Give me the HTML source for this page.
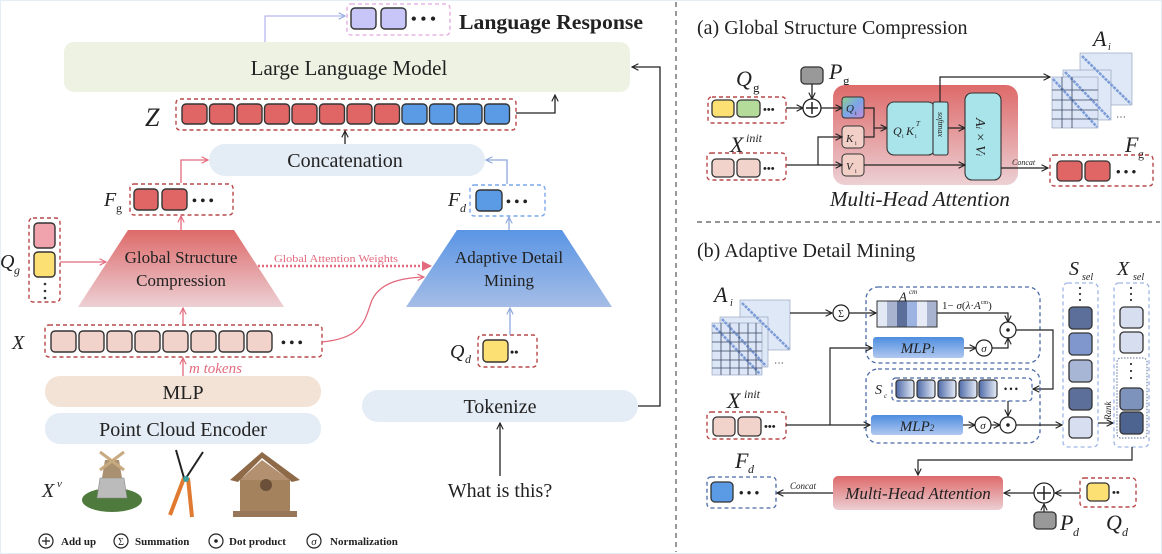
<!DOCTYPE html>
<html><head><meta charset="utf-8"><style>
html,body{margin:0;padding:0;background:#fff}
svg{display:block}
text{font-family:"Liberation Serif",serif;fill:#222}
.it{font-style:italic}
</style></head><body>
<svg width="1162" height="554" viewBox="0 0 1162 554" xmlns="http://www.w3.org/2000/svg">
<defs>
<marker id="ak" viewBox="0 0 10 10" refX="9" refY="5" markerWidth="8" markerHeight="8" orient="auto-start-reverse" markerUnits="userSpaceOnUse"><path d="M1,1 L9,5 L1,9" fill="none" stroke="#222" stroke-width="1.4"/></marker>
<marker id="ap" viewBox="0 0 10 10" refX="9" refY="5" markerWidth="8" markerHeight="8" orient="auto-start-reverse" markerUnits="userSpaceOnUse"><path d="M1,1 L9,5 L1,9" fill="none" stroke="#e36a7d" stroke-width="1.4"/></marker>
<marker id="ab" viewBox="0 0 10 10" refX="9" refY="5" markerWidth="8" markerHeight="8" orient="auto-start-reverse" markerUnits="userSpaceOnUse"><path d="M1,1 L9,5 L1,9" fill="none" stroke="#8fa8dc" stroke-width="1.4"/></marker>
<marker id="apf" viewBox="0 0 10 10" refX="8" refY="5" markerWidth="10" markerHeight="10" orient="auto" markerUnits="userSpaceOnUse"><path d="M0,0 L10,5 L0,10 z" fill="#e36a7d"/></marker>
<linearGradient id="gred" x1="0" y1="0" x2="0" y2="1"><stop offset="0" stop-color="#de6a6a"/><stop offset="1" stop-color="#ecd0d4"/></linearGradient>
<linearGradient id="gblue" x1="0" y1="0" x2="0" y2="1"><stop offset="0" stop-color="#5a95e5"/><stop offset="1" stop-color="#a5bde6"/></linearGradient>
<linearGradient id="gmlp" x1="0" y1="0" x2="0" y2="1"><stop offset="0" stop-color="#4d8de0"/><stop offset="1" stop-color="#b0c8ef"/></linearGradient>
<linearGradient id="gq" x1="0" y1="0" x2="1" y2="1"><stop offset="0" stop-color="#8fd08a"/><stop offset="0.5" stop-color="#7aa6e8"/><stop offset="1" stop-color="#c48ad8"/></linearGradient>
<linearGradient id="gsc" x1="0" y1="0" x2="1" y2="0"><stop offset="0" stop-color="#4e6aa8"/><stop offset="1" stop-color="#e6ecf8"/></linearGradient>
</defs>
<rect x="0.5" y="0.5" width="1161" height="553" fill="#fff" stroke="#e2eff6"/>

<line x1="676" y1="2" x2="676" y2="552" stroke="#555" stroke-dasharray="5,4" stroke-width="1.2"/>
<line x1="697" y1="222" x2="1160" y2="222" stroke="#555" stroke-dasharray="5,4" stroke-width="1.2"/>

<rect x="347" y="4" width="103" height="31" rx="4" fill="none" stroke="#e6a8e0" stroke-dasharray="4,3" stroke-width="1.3"/>
<rect x="351" y="8" width="25" height="21" rx="4" fill="#c8c6f8" stroke="#333" stroke-width="1.4"/>
<rect x="381" y="8" width="25" height="21" rx="4" fill="#c8c6f8" stroke="#333" stroke-width="1.4"/>
<text x="411" y="24" font-size="16" font-weight="bold">• • •</text>
<text x="459" y="29" font-size="21" font-weight="bold" textLength="184" lengthAdjust="spacingAndGlyphs">Language Response</text>
<path d="M265,42 V16 H345" fill="none" stroke="#b8b8f0" stroke-width="1.3" marker-end="url(#ab)"/>

<rect x="64" y="42" width="566" height="50" rx="10" fill="#eef2e3"/>
<text x="349" y="75" font-size="21" text-anchor="middle">Large Language Model</text>
<path d="M638,406 H660 V67 H632" fill="none" stroke="#222" stroke-width="1.3" marker-end="url(#ak)"/>

<text x="145" y="126" font-size="26" class="it">Z</text>
<rect x="176" y="99" width="340" height="31" rx="4" fill="none" stroke="#b84848" stroke-dasharray="4,3" stroke-width="1.4"/>
<g stroke="#333" stroke-width="1.4">
<rect x="182" y="104" width="25" height="20" rx="4" fill="#e06666"/>
<rect x="209.5" y="104" width="25" height="20" rx="4" fill="#e06666"/>
<rect x="237" y="104" width="25" height="20" rx="4" fill="#e06666"/>
<rect x="264.5" y="104" width="25" height="20" rx="4" fill="#e06666"/>
<rect x="292" y="104" width="25" height="20" rx="4" fill="#e06666"/>
<rect x="319.5" y="104" width="25" height="20" rx="4" fill="#e06666"/>
<rect x="347" y="104" width="25" height="20" rx="4" fill="#e06666"/>
<rect x="374.5" y="104" width="25" height="20" rx="4" fill="#e06666"/>
<rect x="402" y="104" width="25" height="20" rx="4" fill="#5b9be6"/>
<rect x="429.5" y="104" width="25" height="20" rx="4" fill="#5b9be6"/>
<rect x="457" y="104" width="25" height="20" rx="4" fill="#5b9be6"/>
<rect x="484.5" y="104" width="25" height="20" rx="4" fill="#5b9be6"/>
</g>
<path d="M516,113 H555 V95" fill="none" stroke="#222" stroke-width="1.3" marker-end="url(#ak)"/>

<rect x="209" y="144" width="276" height="32" rx="16" fill="#e4ecf6"/>
<text x="345" y="167" font-size="20" text-anchor="middle">Concatenation</text>
<line x1="345" y1="144" x2="345" y2="131" stroke="#222" stroke-width="1.3" marker-end="url(#ak)"/>

<text x="104" y="206" font-size="20" class="it">F</text><text x="116" y="212" font-size="12">g</text>
<rect x="130" y="184" width="103" height="31" rx="4" fill="none" stroke="#b84848" stroke-dasharray="4,3" stroke-width="1.4"/>
<rect x="134" y="189" width="24" height="21" rx="4" fill="#e06666" stroke="#333" stroke-width="1.4"/>
<rect x="162" y="189" width="25" height="21" rx="4" fill="#e06666" stroke="#333" stroke-width="1.4"/>
<text x="192" y="205" font-size="14" font-weight="bold">• • •</text>
<path d="M181,230 V216" fill="none" stroke="#e36a7d" stroke-width="1.3" marker-end="url(#ap)"/>
<path d="M181,183 V160 H208" fill="none" stroke="#e36a7d" stroke-width="1.3" marker-end="url(#ap)"/>

<text x="448" y="206" font-size="20" class="it">F</text><text x="460" y="212" font-size="12" class="it">d</text>
<rect x="470" y="185" width="75" height="31" rx="4" fill="none" stroke="#7aa6ea" stroke-dasharray="4,3" stroke-width="1.4"/>
<rect x="476" y="190" width="26" height="21" rx="4" fill="#5b9be6" stroke="#333" stroke-width="1.4"/>
<text x="506" y="206" font-size="14" font-weight="bold">• • •</text>
<path d="M509,230 V217" fill="none" stroke="#8fa8dc" stroke-width="1.3" marker-end="url(#ab)"/>
<path d="M507,184 V160 H486" fill="none" stroke="#8fa8dc" stroke-width="1.3" marker-end="url(#ab)"/>

<polygon points="128,230 234,230 284,307 78,307" fill="url(#gred)"/>
<text x="181" y="263" font-size="17" text-anchor="middle">Global Structure</text>
<text x="181" y="286" font-size="17" text-anchor="middle">Compression</text>
<polygon points="457,230 562,230 612,307 406,307" fill="url(#gblue)"/>
<text x="509" y="263" font-size="17" text-anchor="middle">Adaptive Detail</text>
<text x="509" y="286" font-size="17" text-anchor="middle">Mining</text>

<text x="274" y="262" font-size="11" textLength="124" lengthAdjust="spacingAndGlyphs" style="fill:#e36a7d">Global Attention Weights</text>
<line x1="258" y1="266" x2="430" y2="266" stroke="#e36a7d" stroke-width="2.4" stroke-dasharray="2,2" marker-end="url(#apf)"/>

<text x="0" y="268" font-size="20" class="it">Q</text><text x="14" y="274" font-size="12" class="it">g</text>
<rect x="29" y="218" width="31" height="84" rx="4" fill="none" stroke="#b84848" stroke-dasharray="4,3" stroke-width="1.4"/>
<rect x="34" y="223" width="21" height="25" rx="4" fill="#f0a3ad" stroke="#333" stroke-width="1.4"/>
<rect x="34" y="252" width="21" height="25" rx="4" fill="#fde073" stroke="#333" stroke-width="1.4"/>
<circle cx="45" cy="284" r="1.3" fill="#333"/><circle cx="45" cy="291" r="1.3" fill="#333"/><circle cx="45" cy="298" r="1.3" fill="#333"/>
<line x1="60" y1="262" x2="106" y2="262" stroke="#e36a7d" stroke-width="1.3" marker-end="url(#ap)"/>

<text x="12" y="349" font-size="20" class="it">X</text>
<rect x="45" y="325" width="277" height="32" rx="4" fill="none" stroke="#b84848" stroke-dasharray="4,3" stroke-width="1.4"/>
<g stroke="#333" stroke-width="1.4" fill="#f2d3cc">
<rect x="51" y="331" width="25" height="21" rx="4"/>
<rect x="79" y="331" width="25" height="21" rx="4"/>
<rect x="107" y="331" width="25" height="21" rx="4"/>
<rect x="135" y="331" width="25" height="21" rx="4"/>
<rect x="163" y="331" width="25" height="21" rx="4"/>
<rect x="191" y="331" width="25" height="21" rx="4"/>
<rect x="219" y="331" width="25" height="21" rx="4"/>
<rect x="247" y="331" width="25" height="21" rx="4"/>
</g>
<text x="281" y="347" font-size="14" font-weight="bold">• • •</text>
<line x1="183" y1="325" x2="183" y2="308" stroke="#e36a7d" stroke-width="1.3" marker-end="url(#ap)"/>
<path d="M322,342 C365,338 365,318 372,300 C380,283 400,278 424,277" fill="none" stroke="#e36a7d" stroke-width="1.3" marker-end="url(#ap)"/>
<line x1="183" y1="376" x2="183" y2="358" stroke="#e36a7d" stroke-width="1.3" marker-end="url(#ap)"/>
<text x="189" y="373" font-size="15" class="it" style="fill:#e36a7d">m tokens</text>

<rect x="45" y="376" width="276" height="31" rx="15" fill="#f3e3d6"/>
<text x="183" y="399" font-size="20" text-anchor="middle">MLP</text>
<rect x="45" y="413" width="276" height="31" rx="15" fill="#e4ecf6"/>
<text x="183" y="436" font-size="20" text-anchor="middle">Point Cloud Encoder</text>

<text x="42" y="497" font-size="20" class="it">X</text><text x="57" y="487" font-size="11" class="it">v</text>
<ellipse cx="112" cy="500" rx="30" ry="12" fill="#4f7a3e"/>
<path d="M97,498 L100,478 L124,478 L127,498 Z" fill="#bbb" stroke="#888" stroke-width="0.6"/>
<path d="M102,478 L105,460 L119,460 L122,478 Z" fill="#a89070"/>
<path d="M100,452 L124,470 M124,452 L100,470" stroke="#c8aa80" stroke-width="3"/>
<path d="M184,478 L176,450 M186,478 L203,452" stroke="#222" stroke-width="2"/>
<path d="M184,478 L170,515 M188,478 L192,517" stroke="#e07a30" stroke-width="4"/>
<circle cx="186" cy="479" r="3" fill="#3aa0a0"/>
<rect x="240" y="477" width="50" height="36" fill="#a5825e"/>
<polygon points="230,480 262,452 300,480 292,482 262,458 238,482" fill="#8e6a48"/>
<polygon points="240,480 262,460 290,480" fill="#b39070"/>
<circle cx="266" cy="485" r="6" fill="#6a5038"/>
<rect x="233" y="511" width="64" height="6" fill="#98765a"/>

<g stroke="#222" stroke-width="1.2" fill="none">
<circle cx="46" cy="541" r="7"/><path d="M42,541 H50 M46,537 V545"/>
<circle cx="121" cy="541" r="7"/>
<circle cx="216" cy="541" r="7"/>
<circle cx="314" cy="541" r="7"/>
</g>
<circle cx="216" cy="541" r="1.8" fill="#222"/>
<text x="121" y="545" font-size="10" text-anchor="middle">Σ</text>
<text x="314" y="545" font-size="11" text-anchor="middle" class="it">σ</text>
<g font-size="11" font-weight="bold">
<text x="61" y="545">Add up</text>
<text x="135" y="545">Summation</text>
<text x="229" y="545">Dot product</text>
<text x="330" y="545">Normalization</text>
</g>

<text x="450" y="358" font-size="20" class="it">Q</text><text x="465" y="363" font-size="12" class="it">d</text>
<rect x="478" y="335" width="59" height="32" rx="4" fill="none" stroke="#b84848" stroke-dasharray="4,3" stroke-width="1.4"/>
<rect x="483" y="340" width="25" height="22" rx="4" fill="#fde073" stroke="#333" stroke-width="1.4"/>
<text x="510" y="356" font-size="12" font-weight="bold">••</text>
<line x1="510" y1="335" x2="510" y2="308" stroke="#8fa8dc" stroke-width="1.3" marker-end="url(#ab)"/>

<rect x="362" y="390" width="276" height="32" rx="16" fill="#e4ecf6"/>
<text x="500" y="413" font-size="20" text-anchor="middle">Tokenize</text>
<line x1="500" y1="476" x2="500" y2="423" stroke="#222" stroke-width="1.3" marker-end="url(#ak)"/>
<text x="500" y="497" font-size="20" text-anchor="middle">What is this?</text>

<text x="697" y="34" font-size="20">(a) Global Structure Compression</text>
<text x="736" y="86" font-size="22" class="it">Q</text><text x="753" y="92" font-size="13">g</text>
<rect x="708" y="97" width="78" height="26" rx="4" fill="none" stroke="#b84848" stroke-dasharray="4,3" stroke-width="1.4"/>
<rect x="712" y="100" width="22" height="17" rx="4" fill="#fde073" stroke="#333" stroke-width="1.3"/>
<rect x="737" y="100" width="23" height="17" rx="4" fill="#b5db9b" stroke="#333" stroke-width="1.3"/>
<text x="763" y="113" font-size="11" font-weight="bold">•••</text>
<line x1="786" y1="108" x2="803" y2="108" stroke="#222" stroke-width="1.3" marker-end="url(#ak)"/>
<rect x="801" y="67" width="22" height="17" rx="4" fill="#999" stroke="#333" stroke-width="1.3"/>
<line x1="812" y1="84" x2="812" y2="99" stroke="#222" stroke-width="1.3" marker-end="url(#ak)"/>
<circle cx="812" cy="108" r="9" fill="#fff" stroke="#222" stroke-width="1.3"/>
<path d="M806,108 H818 M812,102 V114" stroke="#222" stroke-width="1.5"/>
<text x="829" y="79" font-size="22" class="it">P</text><text x="843" y="85" font-size="13">g</text>
<rect x="833" y="85" width="185" height="100" rx="12" fill="url(#gred)"/>
<line x1="821" y1="108" x2="842" y2="108" stroke="#222" stroke-width="1.3" marker-end="url(#ak)"/>
<rect x="842" y="97" width="22" height="21" rx="3" fill="url(#gq)" stroke="#333" stroke-width="1"/>
<text x="846" y="112" font-size="11" class="it">Q</text><text x="855" y="115" font-size="6">i</text>
<rect x="842" y="126" width="22" height="22" rx="4" fill="#f2d0c8" stroke="#333" stroke-width="1"/>
<text x="846" y="142" font-size="11" class="it">K</text><text x="855" y="145" font-size="6">i</text>
<rect x="842" y="154" width="22" height="22" rx="4" fill="#f2d0c8" stroke="#333" stroke-width="1"/>
<text x="846" y="170" font-size="11" class="it">V</text><text x="855" y="173" font-size="6">i</text>
<path d="M818,165 V137 H842" fill="none" stroke="#222" stroke-width="1.2" marker-end="url(#ak)"/>
<path d="M786,165 H842" fill="none" stroke="#222" stroke-width="1.2" marker-end="url(#ak)"/>
<path d="M864,108 H874 V137 H864" fill="none" stroke="#222" stroke-width="1.2"/>
<line x1="874" y1="128" x2="887" y2="128" stroke="#222" stroke-width="1.2" marker-end="url(#ak)"/>
<rect x="887" y="102" width="48" height="53" rx="7" fill="#a9e4ea" stroke="#333" stroke-width="1.1"/>
<rect x="933" y="102" width="15" height="53" rx="2" fill="#a9e4ea" stroke="#333" stroke-width="1.1"/>
<text x="893" y="135" font-size="12" class="it">Q</text><text x="902" y="138" font-size="6">i</text><text x="906" y="135" font-size="12" class="it">K</text><text x="915" y="138" font-size="6">i</text><text x="916" y="126" font-size="7" class="it">T</text>
<text transform="translate(938,112) rotate(90)" font-size="8" class="it">softmax</text>
<line x1="948" y1="128" x2="965" y2="128" stroke="#222" stroke-width="1.2" marker-end="url(#ak)"/>
<path d="M940,102 V77 H1050" fill="none" stroke="#222" stroke-width="1.2" marker-end="url(#ak)"/>
<rect x="965" y="93" width="36" height="87" rx="7" fill="#a9e4ea" stroke="#333" stroke-width="1.1"/>
<text transform="translate(976,118) rotate(90)" font-size="14" class="it">A<tspan font-size="8">i</tspan> × V<tspan font-size="8">i</tspan></text>
<line x1="864" y1="165" x2="965" y2="165" stroke="#222" stroke-width="1.2" marker-end="url(#ak)"/>
<line x1="1001" y1="168" x2="1048" y2="168" stroke="#222" stroke-width="1.2" marker-end="url(#ak)"/>
<text x="1012" y="165" font-size="8" class="it">Concat</text>
<text x="730" y="152" font-size="22" class="it">X</text><text x="746" y="142" font-size="12" class="it">init</text>
<rect x="707" y="153" width="79" height="27" rx="4" fill="none" stroke="#b84848" stroke-dasharray="4,3" stroke-width="1.4"/>
<rect x="712" y="159" width="22" height="18" rx="4" fill="#f2d3cc" stroke="#333" stroke-width="1.3"/>
<rect x="737" y="159" width="23" height="18" rx="4" fill="#f2d3cc" stroke="#333" stroke-width="1.3"/>
<text x="763" y="172" font-size="11" font-weight="bold">•••</text>
<text x="830" y="206" font-size="21" class="it">Multi-Head Attention</text>
<g stroke="#8a9ab8" stroke-width="0.6">
<rect x="1080" y="53" width="52" height="52" fill="#dfe8f6"/>
<rect x="1063" y="70" width="48" height="50" fill="#dfe8f6"/>
<rect x="1052" y="77" width="46" height="51" fill="#dde6f6"/>
</g>
<g stroke="#7b9bd8" stroke-width="2.5" stroke-dasharray="3,1">
<line x1="1082" y1="56" x2="1131" y2="104"/>
<line x1="1065" y1="72" x2="1110" y2="119"/>
<line x1="1053" y1="79" x2="1097" y2="127"/>
</g>
<g stroke="#3a4660" stroke-width="0.8">
<line x1="1052" y1="90" x2="1098" y2="90"/><line x1="1052" y1="100" x2="1098" y2="100"/><line x1="1052" y1="110" x2="1098" y2="110"/><line x1="1052" y1="119" x2="1098" y2="119"/>
<line x1="1062" y1="77" x2="1062" y2="128"/><line x1="1072" y1="77" x2="1072" y2="128"/>
</g>
<text x="1116" y="120" font-size="10">⋯</text>
<text x="1093" y="46" font-size="22" class="it">A</text><text x="1108" y="50" font-size="10" class="it">i</text>
<text x="1125" y="152" font-size="22" class="it">F</text><text x="1138" y="158" font-size="12">g</text>
<rect x="1050" y="155" width="103" height="31" rx="4" fill="none" stroke="#b84848" stroke-dasharray="4,3" stroke-width="1.4"/>
<rect x="1057" y="161" width="25" height="20" rx="4" fill="#e06666" stroke="#333" stroke-width="1.3"/>
<rect x="1085" y="161" width="25" height="20" rx="4" fill="#e06666" stroke="#333" stroke-width="1.3"/>
<text x="1116" y="176" font-size="13" font-weight="bold">• • •</text>

<text x="697" y="257" font-size="20">(b) Adaptive Detail Mining</text>
<text x="714" y="302" font-size="22" class="it">A</text><text x="730" y="306" font-size="10" class="it">i</text>
<g stroke="#8a9ab8" stroke-width="0.6">
<rect x="740" y="300" width="50" height="50" fill="#dfe8f6"/>
<rect x="720" y="317" width="48" height="50" fill="#dfe8f6"/>
<rect x="712" y="323" width="50" height="52" fill="#dde6f6"/>
</g>
<g stroke="#7b9bd8" stroke-width="2.5" stroke-dasharray="3,1">
<line x1="742" y1="303" x2="789" y2="349"/>
<line x1="722" y1="319" x2="766" y2="366"/>
<line x1="713" y1="325" x2="760" y2="374"/>
</g>
<g stroke="#3a4660" stroke-width="0.8">
<line x1="712" y1="333" x2="762" y2="333"/><line x1="712" y1="342" x2="762" y2="342"/><line x1="712" y1="351" x2="762" y2="351"/><line x1="712" y1="360" x2="762" y2="360"/><line x1="712" y1="368" x2="762" y2="368"/>
<line x1="721" y1="323" x2="721" y2="375"/><line x1="730" y1="323" x2="730" y2="375"/><line x1="739" y1="323" x2="739" y2="375"/><line x1="748" y1="323" x2="748" y2="375"/><line x1="756" y1="323" x2="756" y2="375"/>
</g>
<text x="774" y="366" font-size="10">⋯</text>
<line x1="790" y1="313" x2="832" y2="313" stroke="#222" stroke-width="1.2" marker-end="url(#ak)"/>
<circle cx="841" cy="313" r="8" fill="#fff" stroke="#222" stroke-width="1.2"/>
<text x="841" y="317" font-size="10" text-anchor="middle">Σ</text>
<line x1="849" y1="313" x2="876" y2="313" stroke="#222" stroke-width="1.2" marker-end="url(#ak)"/>

<rect x="866" y="287" width="174" height="76" rx="12" fill="none" stroke="#4a6aa8" stroke-dasharray="4,3" stroke-width="1.3"/>
<g stroke="none">
<rect x="877" y="301" width="10" height="26" fill="#e2e8f4"/>
<rect x="887" y="301" width="10" height="26" fill="#a8b4cf"/>
<rect x="897" y="301" width="10" height="26" fill="#5b6f9a"/>
<rect x="907" y="301" width="10" height="26" fill="#9db4e2"/>
<rect x="917" y="301" width="10" height="26" fill="#e6ebf6"/>
<rect x="927" y="301" width="10" height="26" fill="#a8b4cf"/>
</g>
<rect x="877" y="301" width="60" height="26" fill="none" stroke="#333" stroke-width="1"/>
<text x="899" y="301" font-size="13" class="it">A</text><text x="909" y="294" font-size="7" class="it">cm</text>
<text x="942" y="309" font-size="11">1− <tspan class="it">σ</tspan>(<tspan class="it">λ</tspan>·<tspan class="it">A</tspan><tspan font-size="6" dy="-5">cm</tspan><tspan dy="5">)</tspan></text>
<path d="M937,313 H1008 V322" fill="none" stroke="#222" stroke-width="1.2" marker-end="url(#ak)"/>
<circle cx="1008" cy="330" r="8" fill="#fff" stroke="#222" stroke-width="1.2"/><circle cx="1008" cy="330" r="1.8" fill="#222"/>
<rect x="873" y="337" width="91" height="21" rx="3" fill="url(#gmlp)"/>
<text x="918" y="353" font-size="15" class="it" text-anchor="middle">MLP<tspan font-size="9">1</tspan></text>
<line x1="964" y1="348" x2="976" y2="348" stroke="#222" stroke-width="1.2" marker-end="url(#ak)"/>
<circle cx="984" cy="348" r="8" fill="#fff" stroke="#222" stroke-width="1.2"/>
<text x="984" y="352" font-size="11" class="it" text-anchor="middle">σ</text>
<path d="M992,348 H1008 V338" fill="none" stroke="#222" stroke-width="1.2" marker-end="url(#ak)"/>
<path d="M1016,330 H1053 V389 H1033" fill="none" stroke="#222" stroke-width="1.2" marker-end="url(#ak)"/>

<rect x="866" y="369" width="174" height="74" rx="12" fill="none" stroke="#4a6aa8" stroke-dasharray="4,3" stroke-width="1.3"/>
<text x="875" y="394" font-size="14" class="it">S</text><text x="884" y="398" font-size="7" class="it">c</text>
<rect x="892" y="378" width="140" height="23" rx="4" fill="none" stroke="#4a6aa8" stroke-dasharray="4,3" stroke-width="1.2"/>
<g stroke="#333" stroke-width="1.2" fill="url(#gsc)">
<rect x="896" y="380" width="18" height="18" rx="3"/>
<rect x="917" y="380" width="18" height="18" rx="3"/>
<rect x="938" y="380" width="18" height="18" rx="3"/>
<rect x="959" y="380" width="18" height="18" rx="3"/>
<rect x="979" y="380" width="18" height="18" rx="3"/>
</g>
<text x="1004" y="392" font-size="9" font-weight="bold">• • •</text>
<line x1="1008" y1="401" x2="1008" y2="416" stroke="#222" stroke-width="1.2" marker-end="url(#ak)"/>
<rect x="871" y="415" width="92" height="20" rx="3" fill="url(#gmlp)"/>
<text x="917" y="431" font-size="15" class="it" text-anchor="middle">MLP<tspan font-size="9">2</tspan></text>
<line x1="963" y1="425" x2="975" y2="425" stroke="#222" stroke-width="1.2" marker-end="url(#ak)"/>
<circle cx="983" cy="425" r="8" fill="#fff" stroke="#222" stroke-width="1.2"/>
<text x="983" y="429" font-size="11" class="it" text-anchor="middle">σ</text>
<line x1="991" y1="425" x2="1000" y2="425" stroke="#222" stroke-width="1.2" marker-end="url(#ak)"/>
<circle cx="1008" cy="425" r="8" fill="#fff" stroke="#222" stroke-width="1.2"/><circle cx="1008" cy="425" r="1.8" fill="#222"/>
<line x1="1016" y1="425" x2="1062" y2="425" stroke="#222" stroke-width="1.2" marker-end="url(#ak)"/>

<text x="727" y="408" font-size="22" class="it">X</text><text x="744" y="398" font-size="12" class="it">init</text>
<rect x="707" y="412" width="79" height="27" rx="4" fill="none" stroke="#b84848" stroke-dasharray="4,3" stroke-width="1.4"/>
<rect x="713" y="417" width="22" height="19" rx="4" fill="#f2d3cc" stroke="#333" stroke-width="1.3"/>
<rect x="738" y="417" width="23" height="19" rx="4" fill="#f2d3cc" stroke="#333" stroke-width="1.3"/>
<text x="764" y="430" font-size="11" font-weight="bold">•••</text>
<line x1="786" y1="425" x2="870" y2="425" stroke="#222" stroke-width="1.2" marker-end="url(#ak)"/>
<path d="M830,425 V348 H872" fill="none" stroke="#222" stroke-width="1.2" marker-end="url(#ak)"/>

<text x="1069" y="275" font-size="20" class="it">S</text><text x="1082" y="280" font-size="10" class="it">sel</text>
<rect x="1063" y="283" width="35" height="164" rx="5" fill="none" stroke="#9fb6e4" stroke-dasharray="4,3" stroke-width="1.3"/>
<circle cx="1080" cy="288" r="1.1" fill="#333"/><circle cx="1080" cy="294" r="1.1" fill="#333"/><circle cx="1080" cy="300" r="1.1" fill="#333"/>
<g stroke="#333" stroke-width="1.3">
<rect x="1069" y="307" width="23" height="22" rx="4" fill="#5b6f9a"/>
<rect x="1069" y="333" width="23" height="22" rx="4" fill="#7f97cc"/>
<rect x="1069" y="360" width="23" height="22" rx="4" fill="#a7b6d4"/>
<rect x="1069" y="388" width="23" height="22" rx="4" fill="#5b6f9a"/>
<rect x="1069" y="417" width="23" height="21" rx="4" fill="#d6def0"/>
</g>
<line x1="1098" y1="423" x2="1113" y2="423" stroke="#222" stroke-width="1.2" marker-end="url(#ak)"/>
<text transform="translate(1111,420) rotate(-90)" font-size="9" class="it">Rank</text>
<text x="1117" y="275" font-size="20" class="it">X</text><text x="1133" y="280" font-size="10" class="it">sel</text>
<rect x="1114" y="283" width="35" height="164" rx="5" fill="none" stroke="#9fb6e4" stroke-dasharray="4,3" stroke-width="1.3"/>
<circle cx="1131" cy="288" r="1.1" fill="#333"/><circle cx="1131" cy="294" r="1.1" fill="#333"/><circle cx="1131" cy="300" r="1.1" fill="#333"/>
<rect x="1117" y="358" width="30" height="80" rx="4" fill="none" stroke="#5a6f98" stroke-dasharray="1.5,1.5" stroke-width="1"/>
<circle cx="1131" cy="364" r="1.1" fill="#333"/><circle cx="1131" cy="371" r="1.1" fill="#333"/><circle cx="1131" cy="378" r="1.1" fill="#333"/>
<g stroke="#333" stroke-width="1.3">
<rect x="1120" y="307" width="23" height="21" rx="4" fill="#d6def0"/>
<rect x="1120" y="332" width="23" height="21" rx="4" fill="#d6def0"/>
<rect x="1120" y="388" width="23" height="22" rx="4" fill="#7e93bc"/>
<rect x="1120" y="412" width="23" height="22" rx="4" fill="#4d6390"/>
</g>
<path d="M1132,447 V460 H918 V475" fill="none" stroke="#222" stroke-width="1.2" marker-end="url(#ak)"/>

<rect x="833" y="476" width="170" height="34" rx="5" fill="url(#gred)"/>
<text x="918" y="499" font-size="17" class="it" text-anchor="middle">Multi-Head Attention</text>
<text x="735" y="468" font-size="22" class="it">F</text><text x="748" y="473" font-size="12" class="it">d</text>
<rect x="707" y="477" width="69" height="31" rx="4" fill="none" stroke="#4a6aa8" stroke-dasharray="4,3" stroke-width="1.3"/>
<rect x="711" y="482" width="22" height="20" rx="4" fill="#5b9be6" stroke="#333" stroke-width="1.3"/>
<text x="739" y="497" font-size="13" font-weight="bold">• • •</text>
<line x1="833" y1="493" x2="777" y2="493" stroke="#222" stroke-width="1.2" marker-end="url(#ak)"/>
<text x="790" y="489" font-size="9" class="it">Concat</text>
<circle cx="1044" cy="493" r="10" fill="#fff" stroke="#222" stroke-width="1.3"/>
<path d="M1037,493 H1051 M1044,486 V500" stroke="#222" stroke-width="1.5"/>
<line x1="1034" y1="493" x2="1004" y2="493" stroke="#222" stroke-width="1.2" marker-end="url(#ak)"/>
<line x1="1080" y1="493" x2="1055" y2="493" stroke="#222" stroke-width="1.2" marker-end="url(#ak)"/>
<rect x="1080" y="478" width="56" height="29" rx="4" fill="none" stroke="#b84848" stroke-dasharray="4,3" stroke-width="1.4"/>
<rect x="1087" y="483" width="22" height="18" rx="4" fill="#fde073" stroke="#333" stroke-width="1.3"/>
<text x="1112" y="496" font-size="11" font-weight="bold">••</text>
<rect x="1034" y="512" width="22" height="17" rx="4" fill="#999" stroke="#333" stroke-width="1.3"/>
<line x1="1044" y1="512" x2="1044" y2="504" stroke="#222" stroke-width="1.2" marker-end="url(#ak)"/>
<text x="1060" y="530" font-size="22" class="it">P</text><text x="1073" y="536" font-size="12" class="it">d</text>
<text x="1106" y="530" font-size="22" class="it">Q</text><text x="1122" y="536" font-size="12" class="it">d</text>
</svg>
</body></html>
